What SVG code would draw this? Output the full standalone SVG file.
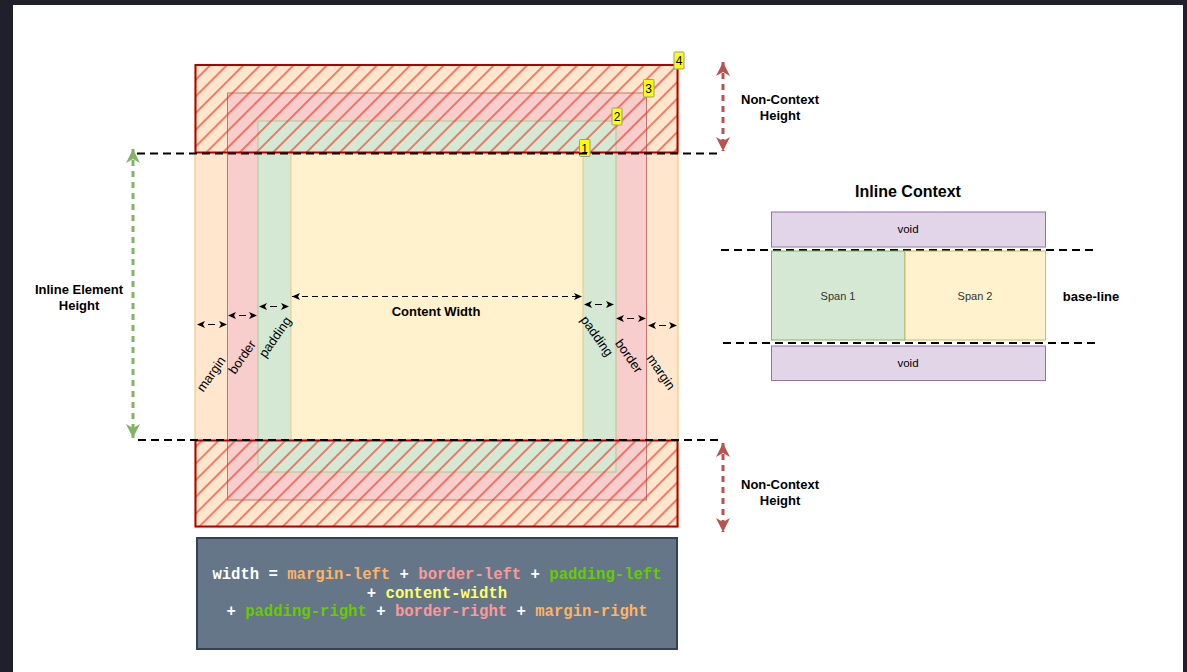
<svg xmlns="http://www.w3.org/2000/svg" width="1187" height="672" viewBox="0 0 1187 672">
<style>
.lbl{font-family:"Liberation Sans",Arial,sans-serif;font-size:13px;font-weight:bold;fill:#000;text-anchor:middle}
.rot{font-family:"Liberation Sans",Arial,sans-serif;font-size:13px;fill:#000;text-anchor:middle;dominant-baseline:central}
.sm{font-family:"Liberation Sans",Arial,sans-serif;font-size:11px;fill:#333;text-anchor:middle}
.num{font-family:"Liberation Sans",Arial,sans-serif;font-size:12px;fill:#000;text-anchor:middle}
.mono{font-family:"Liberation Mono","Courier New",monospace;font-size:15.6px;font-weight:bold;text-anchor:middle}
.dash{stroke:#000;stroke-width:2;stroke-dasharray:8 5;fill:none}
.small{stroke:#000;stroke-width:1;fill:none;stroke-dasharray:0 11 7 40;marker-start:url(#ahB);marker-end:url(#ahB)}
.numbox{fill:#ffff00;stroke:#999;stroke-width:1}
</style>
<defs>
<pattern id="hatch" patternUnits="userSpaceOnUse" width="11.8" height="11.8" patternTransform="rotate(45)">
<line x1="5.9" y1="-1" x2="5.9" y2="13" stroke="#f03424" stroke-width="1.2"/>
</pattern>
<marker id="ahR" viewBox="0 0 14 14" markerWidth="14" markerHeight="14" refX="14" refY="7" orient="auto-start-reverse" markerUnits="userSpaceOnUse">
<path d="M0,0 L14,7 L0,14 L4,7 z" fill="#b85450"/>
</marker>
<marker id="ahG" viewBox="0 0 14 14" markerWidth="14" markerHeight="14" refX="14" refY="7" orient="auto-start-reverse" markerUnits="userSpaceOnUse">
<path d="M0,0 L14,7 L0,14 L4,7 z" fill="#82b366"/>
</marker>
<marker id="ahB" viewBox="0 0 8 8" markerWidth="8" markerHeight="8" refX="8" refY="4" orient="auto-start-reverse" markerUnits="userSpaceOnUse">
<path d="M0,0.5 L8,4 L0,7.5 L2,4 z" fill="#000"/>
</marker>
</defs>

<rect x="0" y="0" width="1187" height="672" fill="#1f202b"/>
<rect x="13" y="5" width="1170" height="667" fill="#ffffff"/>

<g id="box-model">
<rect id="margin" x="195" y="65" width="483" height="462" fill="#ffe6cc" stroke="#f0c060" stroke-width="1"/>
<rect id="border" x="227.5" y="93" width="419" height="407" fill="#f8cecc" stroke="#c87470" stroke-width="1"/>
<rect id="padding" x="258" y="121" width="358" height="351" fill="#d5e8d4" stroke="#a8cc90" stroke-width="1"/>
<rect id="content" x="291" y="153" width="292" height="287" fill="#fff2cc" stroke="#e6cc80" stroke-width="1"/>
</g>

<g id="hatch-top"><rect x="195.5" y="65" width="482" height="87.5" fill="url(#hatch)" stroke="#b20000" stroke-width="2"/></g>
<g id="hatch-bottom"><rect x="195.5" y="440.5" width="482" height="86" fill="url(#hatch)" stroke="#b20000" stroke-width="2"/></g>

<g id="numbers">
<rect class="numbox" x="674" y="52" width="10" height="17" rx="1"/><text class="num" x="679" y="65">4</text>
<rect class="numbox" x="643.5" y="79.5" width="10.5" height="17.5" rx="1"/><text class="num" x="648.7" y="92.5">3</text>
<rect class="numbox" x="612" y="108" width="10" height="17" rx="1"/><text class="num" x="617" y="121">2</text>
<rect class="numbox" x="579.5" y="139.5" width="10.5" height="17" rx="1"/><text class="num" x="584.7" y="152.5">1</text>
</g>

<g id="connectors">
<line class="dash" x1="137" y1="153.5" x2="720" y2="153.5"/>
<line class="dash" x1="138" y1="440" x2="723" y2="440"/>
<line x1="723" y1="62" x2="723" y2="151" stroke="#b85450" stroke-width="3" stroke-dasharray="6 5" marker-start="url(#ahR)" marker-end="url(#ahR)"/>
<line x1="723" y1="443" x2="723" y2="532" stroke="#b85450" stroke-width="3" stroke-dasharray="6 5" marker-start="url(#ahR)" marker-end="url(#ahR)"/>
<line x1="133" y1="149" x2="133" y2="438" stroke="#82b366" stroke-width="3" stroke-dasharray="6 5" marker-start="url(#ahG)" marker-end="url(#ahG)"/>
<line x1="292" y1="296.5" x2="582" y2="296.5" stroke="#000" stroke-width="1" stroke-dasharray="6 4" marker-start="url(#ahB)" marker-end="url(#ahB)"/>
<line class="small" x1="197" y1="324.5" x2="227" y2="324.5"/>
<line class="small" x1="228" y1="315.5" x2="257" y2="315.5"/>
<line class="small" x1="259" y1="306.5" x2="289" y2="306.5"/>
<line class="small" x1="584" y1="304.5" x2="614" y2="304.5"/>
<line class="small" x1="616" y1="318.5" x2="646" y2="318.5"/>
<line class="small" x1="648" y1="325.5" x2="677" y2="325.5"/>
<line class="dash" x1="721" y1="250" x2="1098" y2="250"/>
<line class="dash" x1="723" y1="343" x2="1100" y2="343"/>
</g>

<g id="labels">
<text class="lbl" x="780" y="104">Non-Context</text>
<text class="lbl" x="780" y="120">Height</text>
<text class="lbl" x="780" y="489">Non-Context</text>
<text class="lbl" x="780" y="505">Height</text>
<text class="lbl" x="79" y="294">Inline Element</text>
<text class="lbl" x="79" y="310">Height</text>
<text class="lbl" x="436" y="316">Content Width</text>
<text class="rot" transform="translate(211,374) rotate(-55)">margin</text>
<text class="rot" transform="translate(242,357) rotate(-55)">border</text>
<text class="rot" transform="translate(275,337) rotate(-55)">padding</text>
<text class="rot" transform="translate(597,336) rotate(55)">padding</text>
<text class="rot" transform="translate(629,356) rotate(55)">border</text>
<text class="rot" transform="translate(661,372) rotate(55)">margin</text>
</g>

<g id="formula">
<rect x="197" y="538" width="480" height="111" fill="#647687" stroke="#314354" stroke-width="2"/>
<text class="mono" x="437" y="579"><tspan fill="#ffffff">width =</tspan> <tspan fill="#FFB366">margin-left</tspan> <tspan fill="#ffffff">+</tspan> <tspan fill="#FF9999">border-left</tspan> <tspan fill="#ffffff">+</tspan> <tspan fill="#66CC00">padding-left</tspan></text>
<text class="mono" x="437" y="597.5"><tspan fill="#ffffff">+</tspan> <tspan fill="#FFFF66">content-width</tspan></text>
<text class="mono" x="437" y="616"><tspan fill="#ffffff">+</tspan> <tspan fill="#66CC00">padding-right</tspan> <tspan fill="#ffffff">+</tspan> <tspan fill="#FF9999">border-right</tspan> <tspan fill="#ffffff">+</tspan> <tspan fill="#FFB366">margin-right</tspan></text>
</g>

<g id="inline-context">
<text x="908" y="197" style="font-family:'Liberation Sans',Arial,sans-serif;font-size:16px;font-weight:bold;text-anchor:middle">Inline Context</text>
<g id="void-top"><rect x="771.5" y="212" width="274" height="35" fill="#e1d5e7" stroke="#9673a6"/><text class="sm" x="908" y="233" style="fill:#000;font-size:11.5px">void</text></g>
<g id="span1"><rect x="771.5" y="251" width="133.5" height="89" fill="#d5e8d4" stroke="#82b366"/><text class="sm" x="838" y="300">Span 1</text></g>
<g id="span2"><rect x="905" y="251" width="140.5" height="89" fill="#fff2cc" stroke="#d6b656"/><text class="sm" x="975" y="300">Span 2</text></g>
<g id="void-bottom"><rect x="771.5" y="346" width="274" height="34.5" fill="#e1d5e7" stroke="#9673a6"/><text class="sm" x="908" y="367" style="fill:#000;font-size:11.5px">void</text></g>
<text class="lbl" x="1091" y="300.5">base-line</text>
</g>
</svg>
